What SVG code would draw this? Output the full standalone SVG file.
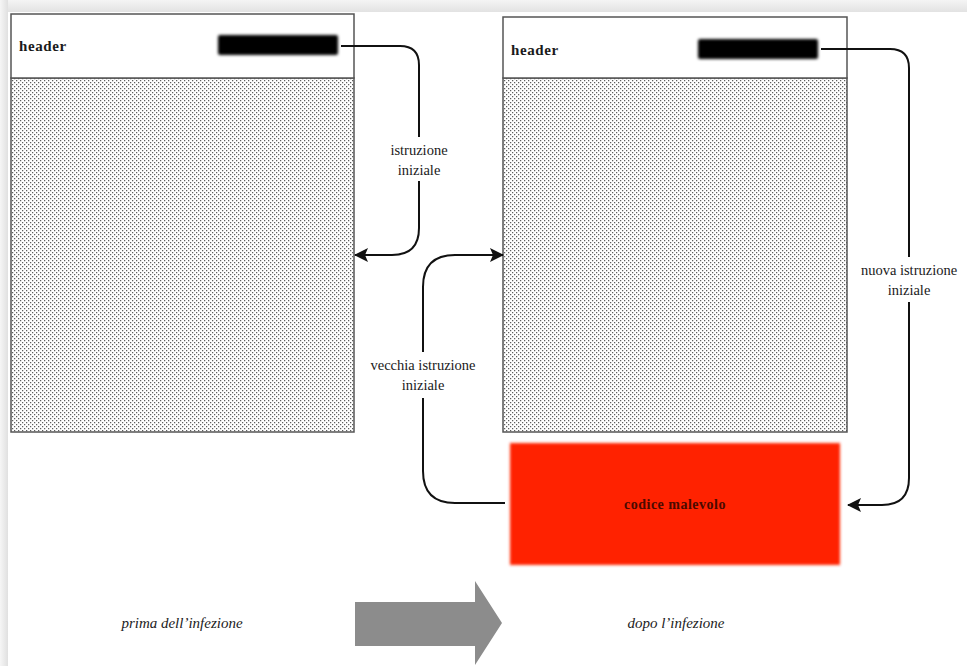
<svg xmlns="http://www.w3.org/2000/svg" width="967" height="666" viewBox="0 0 967 666">
  <defs>
    <linearGradient id="gTop" x1="0" y1="0" x2="0" y2="1">
      <stop offset="0" stop-color="#f4f4f4"/>
      <stop offset="1" stop-color="#e2e2e2"/>
    </linearGradient>
    <linearGradient id="gLeft" x1="0" y1="0" x2="1" y2="0">
      <stop offset="0" stop-color="#f6f6f6"/>
      <stop offset="1" stop-color="#e0e0e0"/>
    </linearGradient>
    <pattern id="dots" width="4" height="4" patternUnits="userSpaceOnUse">
      <rect width="4" height="4" fill="#ffffff"/>
      <rect x="0" y="0" width="1.25" height="1.25" fill="#5e5e5e"/>
      <rect x="2" y="2" width="1.25" height="1.25" fill="#5e5e5e"/>
    </pattern>
    <filter id="blur" x="-10%" y="-30%" width="120%" height="160%">
      <feGaussianBlur stdDeviation="1.6"/>
    </filter>
    <filter id="blurR" x="-5%" y="-10%" width="110%" height="120%">
      <feGaussianBlur stdDeviation="1.5"/>
    </filter>
    <marker id="ah" viewBox="0 0 14 14" refX="13" refY="7" markerWidth="14" markerHeight="14" markerUnits="userSpaceOnUse" orient="auto">
      <path d="M0,0 L14,7 L0,14 L3,7 z" fill="#111"/>
    </marker>
  </defs>
  <style>
    .box { fill: #ffffff; stroke: #555; stroke-width: 1.5; }
    .dot { fill: url(#dots); stroke: #555; stroke-width: 1.5; }
    .bar { fill: #000; filter: url(#blur); }
    .hdr { font-family: "Liberation Serif", serif; font-weight: bold; font-size: 15px; letter-spacing: 0.6px; fill: #1a1a1a; }
    .lbl { font-family: "Liberation Serif", serif; font-size: 14.5px; fill: #1a1a1a; text-anchor: middle; }
    .cap { font-family: "Liberation Serif", serif; font-style: italic; font-size: 15px; fill: #222; text-anchor: middle; }
    .conn { fill: none; stroke: #111; stroke-width: 2; marker-end: url(#ah); }
    .conn2 { fill: none; stroke: #111; stroke-width: 2; }
  </style>
  <rect width="967" height="666" fill="#ffffff"/>
  <rect x="0" y="0" width="967" height="12" fill="url(#gTop)"/>
  <rect x="0" y="0" width="8" height="666" fill="url(#gLeft)"/>

  <g id="file-before">
    <rect class="dot" x="11" y="78" width="343" height="354"/>
    <rect class="box" x="11" y="14" width="343" height="64"/>
    <text class="hdr" x="19" y="51">header</text>
    <rect class="bar" x="218" y="35" width="120" height="20" rx="2"/>
  </g>

  <g id="file-after">
    <rect class="dot" x="503" y="78" width="344" height="354"/>
    <rect class="box" x="503" y="17" width="344" height="61"/>
    <text class="hdr" x="511" y="55">header</text>
    <rect class="bar" x="698" y="39" width="120" height="20" rx="2"/>
  </g>

  <g id="malicious-code">
    <rect x="510" y="443" width="330" height="122" fill="#ff2200" filter="url(#blurR)"/>
    <text x="675" y="509" text-anchor="middle" style="font-family:'Liberation Serif',serif;font-weight:bold;font-size:14px;letter-spacing:0.5px;fill:#4a0a00">codice malevolo</text>
  </g>

  <g id="label-before">
    <text class="cap" x="182" y="628">prima dell’infezione</text>
  </g>
  <g id="label-after">
    <text class="cap" x="676" y="628">dopo l’infezione</text>
  </g>

  <g id="transition-arrow">
    <path d="M355,602 L475,602 L475,581 L502,623 L475,665 L475,646 L355,646 z" fill="#8c8c8c"/>
  </g>

  <g id="connectors">
    <path class="conn2" d="M341,46 L400,46 Q419,46 419,65 L419,137"/>
    <path class="conn" d="M419,181 L419,228 Q419,255 392,255 L355,255"/>
    <path class="conn2" d="M505,503 L455,503 Q423,503 423,471 L423,398"/>
    <path class="conn" d="M423,352 L423,287 Q423,255 455,255 L503,255"/>
    <path class="conn2" d="M821,49 L890,49 Q909,49 909,68 L909,257"/>
    <path class="conn" d="M909,302 L909,478 Q909,505 882,505 L848,505"/>
  </g>

  <g id="connector-labels">
    <text class="lbl" x="419" y="155">istruzione</text>
    <text class="lbl" x="419" y="175">iniziale</text>
    <text class="lbl" x="423" y="370">vecchia istruzione</text>
    <text class="lbl" x="423" y="390">iniziale</text>
    <text class="lbl" x="909" y="275">nuova istruzione</text>
    <text class="lbl" x="909" y="295">iniziale</text>
  </g>
</svg>
